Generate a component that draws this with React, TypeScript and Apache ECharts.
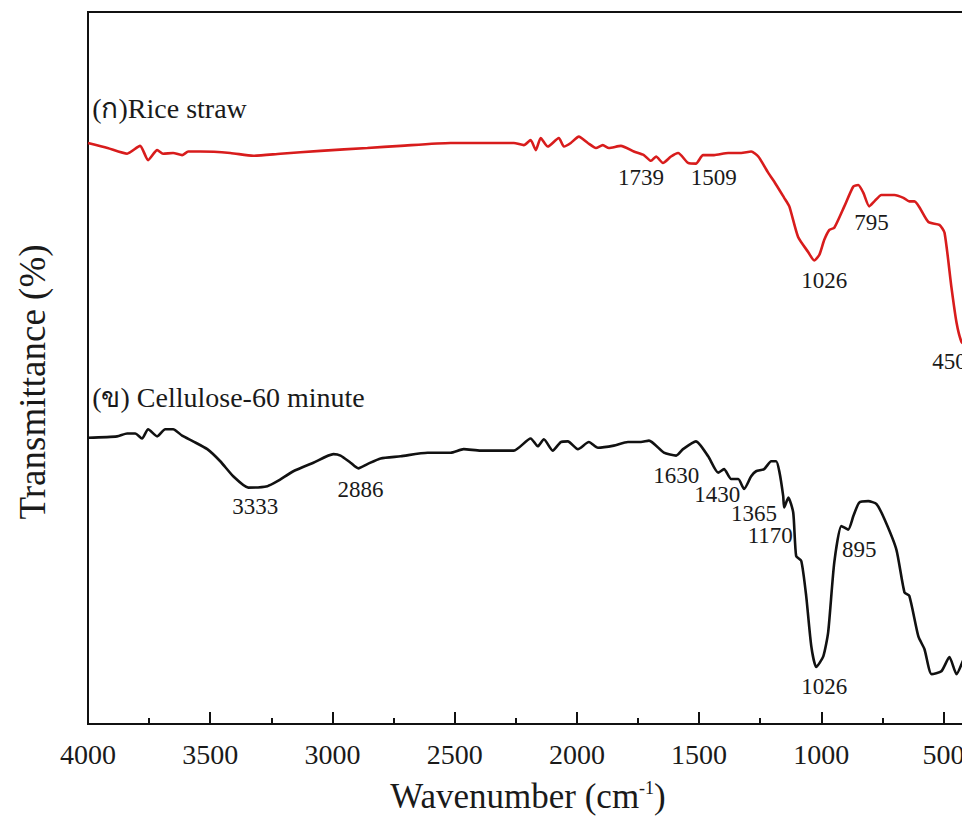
import React, { useEffect, useRef } from "react";
import * as echarts from "echarts";

// ---- Data ----
// Rice straw spectrum: wavenumber (cm-1) and relative transmittance
const riceStrawWn = [4000, 3920, 3840, 3787, 3754, 3717, 3693, 3652, 3615, 3590, 3541, 3418, 3324, 3213, 3049, 2857, 2721, 2517, 2394, 2258, 2217, 2189, 2168, 2148, 2119, 2074, 2053, 2025, 1992, 1955, 1922, 1894, 1869, 1820, 1767, 1726, 1697, 1676, 1648, 1615, 1586, 1545, 1513, 1484, 1439, 1381, 1328, 1287, 1258, 1217, 1193, 1152, 1131, 1095, 1054, 1029, 1008, 988, 967, 947, 906, 869, 849, 828, 804, 783, 754, 701, 664, 640, 619, 562, 517, 496, 468, 447, 427, 410];
const riceStrawT = [81.6, 80.9, 80.1, 81.2, 79.2, 80.6, 80.1, 80.2, 79.9, 80.4, 80.4, 80.2, 79.8, 80.1, 80.5, 80.9, 81.2, 81.6, 81.6, 81.6, 81.3, 82.0, 80.6, 82.3, 81.1, 82.3, 81.1, 81.6, 82.5, 81.6, 80.9, 81.3, 80.9, 81.2, 80.4, 79.9, 79.1, 79.7, 78.8, 79.7, 80.2, 78.8, 78.7, 79.9, 79.9, 80.2, 80.2, 80.4, 79.7, 77.4, 76.2, 73.9, 72.7, 68.4, 66.3, 65.1, 65.9, 68.0, 69.4, 69.7, 72.7, 75.5, 75.7, 74.6, 72.7, 73.4, 74.3, 74.3, 73.9, 73.4, 73.4, 70.5, 70.1, 69.0, 61.4, 56.4, 53.7, 53.2];

// Cellulose-60 minute spectrum
const celluloseWn = [4000, 3881, 3840, 3807, 3779, 3754, 3717, 3684, 3652, 3615, 3570, 3512, 3459, 3406, 3344, 3266, 3225, 3160, 3078, 2996, 2967, 2926, 2894, 2857, 2803, 2721, 2611, 2517, 2463, 2394, 2258, 2189, 2160, 2135, 2099, 2066, 2037, 1996, 1951, 1914, 1849, 1791, 1738, 1705, 1644, 1594, 1566, 1513, 1463, 1422, 1398, 1369, 1340, 1316, 1287, 1267, 1234, 1205, 1185, 1172, 1156, 1152, 1135, 1115, 1103, 1082, 1062, 1041, 1021, 992, 972, 947, 918, 890, 869, 845, 808, 775, 742, 693, 660, 640, 603, 578, 549, 509, 476, 447, 418, 400];
const celluloseT = [40.2, 40.4, 40.8, 40.8, 40.1, 41.4, 40.4, 41.4, 41.4, 40.5, 39.7, 38.6, 36.9, 34.8, 33.2, 33.4, 34.1, 35.5, 36.7, 37.9, 37.7, 36.7, 35.9, 36.5, 37.3, 37.6, 38.1, 38.1, 38.6, 38.4, 38.4, 40.1, 39.0, 40.0, 38.4, 39.6, 39.7, 38.6, 39.6, 38.8, 39.1, 39.6, 39.6, 39.8, 38.1, 37.7, 38.6, 39.7, 37.6, 35.3, 35.8, 34.4, 34.4, 33.0, 34.8, 35.5, 35.8, 36.9, 36.9, 35.5, 32.0, 30.4, 31.8, 29.7, 23.6, 22.9, 18.0, 10.9, 8.0, 9.5, 12.9, 22.7, 27.8, 27.3, 29.2, 31.1, 31.3, 30.9, 28.8, 24.5, 18.5, 18.0, 12.3, 10.5, 7.0, 7.4, 9.4, 7.0, 9.1, 10.5];

// Peak annotations: text, wavenumber of label anchor, transmittance of label anchor
const ricePeakText = ["1739", "1509", "1026", "795", "450"];
const ricePeakWn = [1738, 1440, 988, 795, 476];
const ricePeakT = [76.7, 76.7, 62.3, 70.5, 50.9];

const cellPeakText = ["3333", "2886", "1630", "1430", "1365", "1170", "895", "1026"];
const cellPeakWn = [3316, 2885, 1594, 1426, 1275, 1209, 845, 988];
const cellPeakT = [30.6, 33.0, 34.9, 32.3, 29.6, 26.5, 24.5, 5.2];

// Series titles
const seriesTitles = ["(ก)Rice straw", "(ข) Cellulose-60 minute"];
const seriesTitleWn = [3985, 3985];
const seriesTitleT = [86.5, 45.9];

// Axis ticks
const majorTicks = [4000, 3500, 3000, 2500, 2000, 1500, 1000, 500];
const minorTicks = [3750, 3250, 2750, 2250, 1750, 1250, 750];

const FONT = '"Liberation Serif", "Times New Roman", "DejaVu Serif", serif';
const RED = "#d81c1c";
const BLACK = "#111111";

function zip(a: number[], b: number[]) {
  return a.map((v, i) => [v, b[i]]);
}

function peakMarks(texts: string[], wn: number[], t: number[], size: number) {
  return texts.map((txt, i) => ({
    coord: [wn[i], t[i]],
    symbol: "circle",
    symbolSize: 1,
    itemStyle: { color: "rgba(0,0,0,0)" },
    label: {
      show: true,
      position: "inside",
      formatter: txt,
      color: "#1a1a1a",
      fontSize: size,
      fontFamily: FONT,
    },
  }));
}

function titleMark(i: number) {
  return {
    coord: [seriesTitleWn[i], seriesTitleT[i]],
    symbol: "circle",
    symbolSize: 1,
    itemStyle: { color: "rgba(0,0,0,0)" },
    label: {
      show: true,
      position: "right",
      distance: 0,
      formatter: seriesTitles[i],
      color: "#1a1a1a",
      fontSize: 28,
      fontFamily: FONT,
    },
  };
}

export default function App() {
  const ref = useRef<HTMLDivElement>(null);

  useEffect(() => {
    if (!ref.current) return;
    const chart = echarts.init(ref.current, null, { renderer: "svg" });
    const option: any = {
      animation: false,
      backgroundColor: "#ffffff",
      grid: {
        left: 88,
        top: 12,
        width: 880,
        height: 712,
        show: true,
        borderColor: BLACK,
        borderWidth: 2,
        backgroundColor: "transparent",
        containLabel: false,
        outerBoundsMode: "none",
      },
      xAxis: [
        {
          type: "value",
          min: 400,
          max: 4000,
          inverse: true,
          name: "{t|Wavenumber (cm}{s|-1}{t|)}",
          nameLocation: "middle",
          nameGap: 55,
          nameTextStyle: {
            rich: {
              t: { fontSize: 35, fontFamily: FONT, color: "#1a1a1a" },
              s: { fontSize: 18, fontFamily: FONT, color: "#1a1a1a", verticalAlign: "top", padding: [0, 0, 14, 0] },
            },
          },
          axisLine: { show: true, onZero: false, lineStyle: { color: BLACK, width: 2 } },
          axisTick: {
            show: true,
            inside: true,
            length: 12,
            customValues: majorTicks,
            lineStyle: { color: BLACK, width: 2 },
          },
          axisLabel: {
            show: true,
            customValues: majorTicks,
            formatter: (v: number) => String(v),
            margin: 16,
            fontSize: 28,
            fontFamily: FONT,
            color: "#1a1a1a",
            showMinLabel: true,
            showMaxLabel: true,
            hideOverlap: false,
          },
          splitLine: { show: false },
        },
        {
          type: "value",
          min: 400,
          max: 4000,
          inverse: true,
          position: "bottom",
          axisLine: { show: false },
          axisTick: {
            show: true,
            inside: true,
            length: 6,
            customValues: minorTicks,
            lineStyle: { color: BLACK, width: 2 },
          },
          axisLabel: { show: false },
          splitLine: { show: false },
        },
      ],
      yAxis: {
        type: "value",
        min: 0,
        max: 100,
        axisLine: { show: true, onZero: false, lineStyle: { color: BLACK, width: 2 } },
        axisTick: { show: false },
        axisLabel: { show: false },
        splitLine: { show: false },
      },
      graphic: [
        {
          type: "text",
          x: 32,
          y: 382,
          rotation: Math.PI / 2,
          style: {
            text: "Transmittance (%)",
            fontSize: 37,
            fontFamily: FONT,
            fill: "#1a1a1a",
            align: "center",
            verticalAlign: "middle",
          },
        },
      ],
      series: [
        {
          name: "Rice straw",
          type: "line",
          xAxisIndex: 0,
          data: zip(riceStrawWn, riceStrawT),
          showSymbol: false,
          smooth: 0.2,
          lineStyle: { color: RED, width: 2.6 },
          itemStyle: { color: RED },
          markPoint: {
            silent: true,
            data: [titleMark(0), ...peakMarks(ricePeakText, ricePeakWn, ricePeakT, 23)],
          },
        },
        {
          name: "Cellulose-60 minute",
          type: "line",
          xAxisIndex: 0,
          data: zip(celluloseWn, celluloseT),
          showSymbol: false,
          smooth: 0.2,
          lineStyle: { color: BLACK, width: 2.6 },
          itemStyle: { color: BLACK },
          markPoint: {
            silent: true,
            data: [titleMark(1), ...peakMarks(cellPeakText, cellPeakWn, cellPeakT, 23)],
          },
        },
      ],
    };
    chart.setOption(option);
    return () => chart.dispose();
  }, []);

  return (
    <div
      ref={ref}
      style={{ position: "absolute", left: 0, top: 0, width: 962, height: 829, background: "#fff" }}
    />
  );
}
